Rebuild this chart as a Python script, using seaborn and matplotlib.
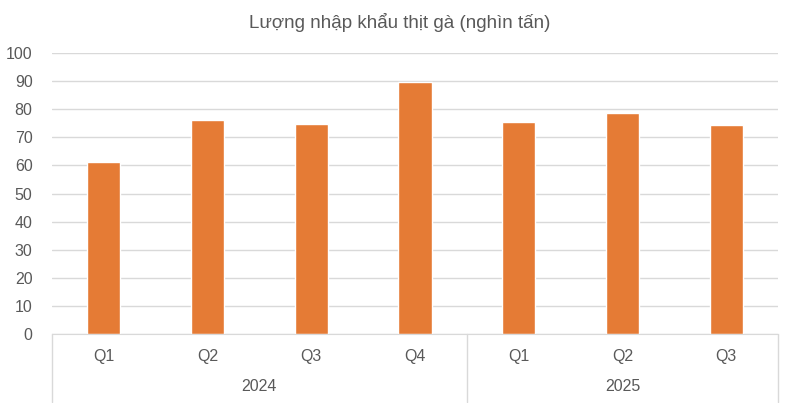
import pandas as pd
import seaborn as sns
import matplotlib.pyplot as plt
import matplotlib.transforms as mtransforms

quarters = ["Q1", "Q2", "Q3", "Q4", "Q1", "Q2", "Q3"]
years = ["2024", "2024", "2024", "2024", "2025", "2025", "2025"]
values = [61.2, 76.3, 74.7, 89.7, 75.5, 78.6, 74.3]
yticks = [0, 10, 20, 30, 40, 50, 60, 70, 80, 90, 100]

df = pd.DataFrame({"key": [y + " " + q for y, q in zip(years, quarters)],
                   "value": values})

sns.set_style("white")
plt.rcParams["font.family"] = ["Liberation Sans Narrow", "Liberation Sans", "DejaVu Sans"]
text_color = "#595959"

fig = plt.figure(figsize=(8, 4.03), dpi=100)
ax = fig.add_axes([0.065, 0.171, 0.9075, 0.6975])

sns.barplot(data=df, x="key", y="value", color="#E57B35", width=0.32,
            saturation=1, ax=ax)

ax.set_ylim(0, 100)
ax.set_yticks(yticks)
ax.set_xlim(-0.5, len(values) - 0.5)
ax.yaxis.grid(True, color="#D9D9D9", linewidth=1)
ax.set_axisbelow(True)
for s in ["top", "right", "left"]:
    ax.spines[s].set_visible(False)
ax.spines["bottom"].set_color("#D9D9D9")
ax.tick_params(axis="y", length=0, labelsize=11.5, labelcolor=text_color, pad=14)
ax.tick_params(axis="x", length=0, labelsize=11.5, labelcolor=text_color, pad=11)
ax.set_xticks(range(len(quarters)))
ax.set_xticklabels(quarters)
ax.set_xlabel("")
ax.set_ylabel("")

# year group labels and separators below the axis
trans = mtransforms.blended_transform_factory(ax.transData, ax.transAxes)
groups = {}
for i, y in enumerate(years):
    groups.setdefault(y, []).append(i)
for y, idx in groups.items():
    ax.text((idx[0] + idx[-1]) / 2, -0.185, y, transform=trans, ha="center",
            va="center", fontsize=11.5, color=text_color)
bounds = [-0.5] + [idx[-1] + 0.5 for idx in groups.values()]
for b in bounds:
    ax.plot([b, b], [0, -0.24], transform=trans, color="#D9D9D9",
            linewidth=1, clip_on=False)

fig.text(0.5, 0.945, "Lượng nhập khẩu thịt gà (nghìn tấn)", ha="center",
         va="center", fontsize=13.5, color=text_color)

fig.savefig("out.png", dpi=100)
